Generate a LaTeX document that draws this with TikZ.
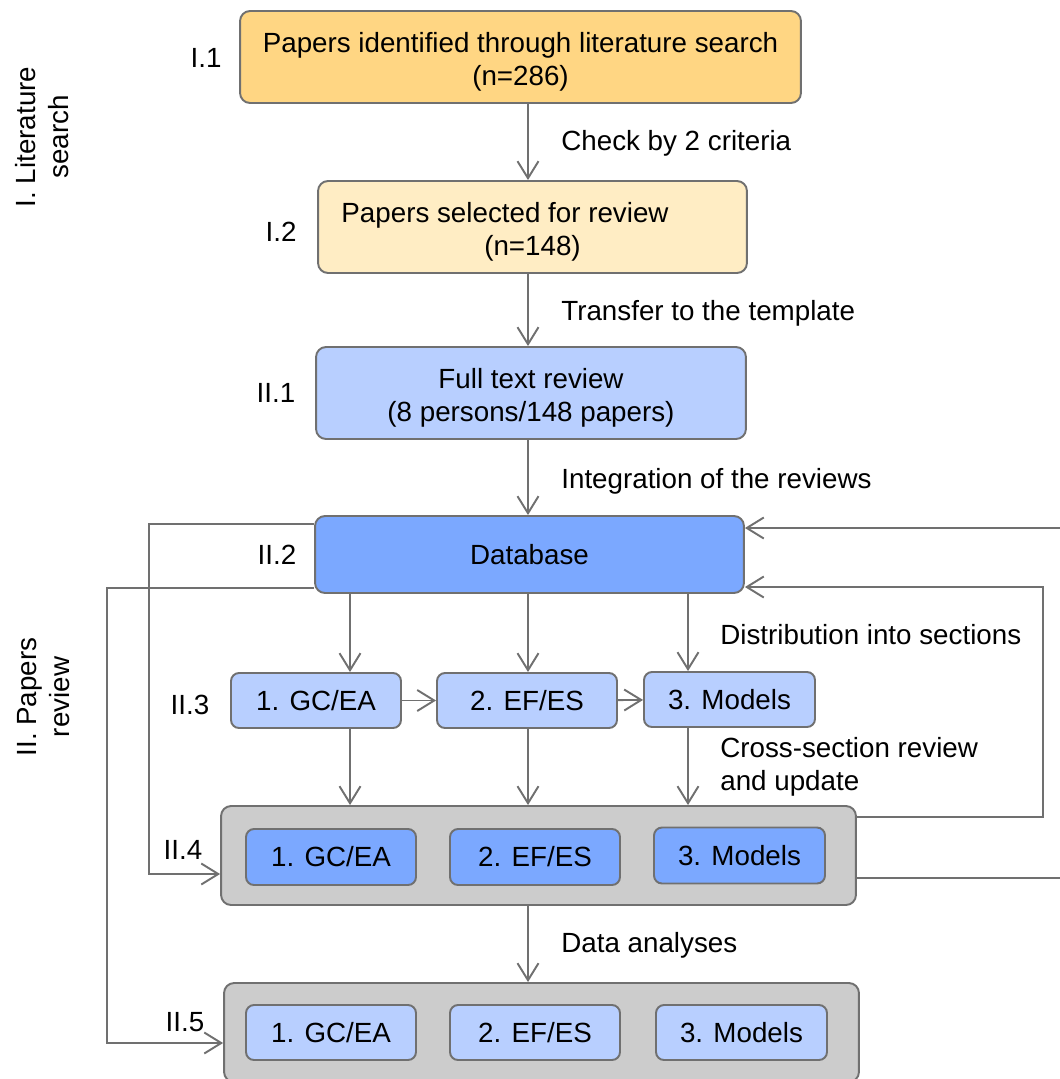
\documentclass[tikz,border=0pt]{standalone}
\usepackage{fontspec}
\setmainfont{Liberation Sans}
\usetikzlibrary{arrows.meta, positioning, calc}
\definecolor{litA}{HTML}{FFD683}
\definecolor{litB}{HTML}{FFEDC4}
\definecolor{revA}{HTML}{B8CFFF}
\definecolor{revB}{HTML}{7BA8FF}
\definecolor{grp}{HTML}{CCCCCC}
\definecolor{linec}{HTML}{707070}
\tikzstyle{box}=[draw=linec, line width=1.1pt, rounded corners=0.2cm, align=center, inner sep=0pt]
\tikzstyle{secbox}=[box, minimum height=1.1cm, rounded corners=0.16cm]
\tikzstyle{grpbox}=[box, fill=grp, minimum width=12.7cm, minimum height=1.98cm]
\tikzstyle{arr}=[->, draw=linec, line width=1.1pt]
\tikzstyle{lbl}=[anchor=west, inner sep=0pt, align=left]
\newcommand{\upstrut}{\rule{0pt}{17pt}}

\begin{document}
\begin{tikzpicture}[x=0.02cm, y=-0.02cm, >={Straight Barb[length=0.34cm, width=0.42cm]},
  font=\fontsize{15.8}{18.8}\selectfont]
\useasboundingbox (0,0) rectangle (1059,1079);
% columns of the section arrows
\coordinate (col_1) at (350,0);
\coordinate (col_2) at (528,0);
\coordinate (col_3) at (688,0);

% phases
\node[rotate=90, align=center] (phase_1) at (42,137) {I. Literature\\search};
\node[rotate=90, align=center] (phase_2) at (44,697) {II. Papers\\review};

% main boxes
\node[box, fill=litA, minimum width=11.22cm, minimum height=1.84cm] (lit_1) at (520.5,57)
  {\upstrut Papers identified through literature search\\(n=286)};
\node[box, fill=litB, minimum width=8.58cm, minimum height=1.84cm] (lit_2) at (532.5,227)
  {\upstrut Papers selected for review\hspace*{1.1cm}\\(n=148)};
\node[box, fill=revA, minimum width=8.6cm, minimum height=1.84cm] (rev_1) at (531,393)
  {\upstrut Full text review\\(8 persons/148 papers)};
\node[box, fill=revB, minimum width=8.58cm, minimum height=1.54cm] (db) at (529.5,554.5) {Database};

% sections
\node[secbox, fill=revA, minimum width=3.4cm] (sec_gc) at (316,700.5) {1. GC/EA};
\node[secbox, fill=revA, minimum width=3.6cm] (sec_ef) at (527,700.5) {2. EF/ES};
\node[secbox, fill=revA, minimum width=3.42cm] (sec_mo) at (729.5,699.5) {3. Models};

\node[grpbox] (upd) at (538.5,855.5) {};
\node[secbox, fill=revB, minimum width=3.4cm, minimum height=1.12cm] (upd_gc) at (331,857) {1. GC/EA};
\node[secbox, fill=revB, minimum width=3.4cm, minimum height=1.12cm] (upd_ef) at (535,857) {2. EF/ES};
\node[secbox, fill=revB, minimum width=3.42cm, minimum height=1.12cm] (upd_mo) at (739.5,855.5) {3. Models};

\node[grpbox] (ana) at (541.5,1032.5) {};
\node[secbox, fill=revA, minimum width=3.4cm] (ana_gc) at (331,1032.5) {1. GC/EA};
\node[secbox, fill=revA, minimum width=3.4cm] (ana_ef) at (535,1032.5) {2. EF/ES};
\node[secbox, fill=revA, minimum width=3.42cm] (ana_mo) at (741.5,1032.5) {3. Models};

% step numbers
\node (n_i1) at (206,58) {I.1};
\node (n_i2) at (281,232) {I.2};
\node (n_ii1) at (276,393) {II.1};
\node (n_ii2) at (277,555) {II.2};
\node (n_ii3) at (190,705) {II.3};
\node (n_ii4) at (183,850) {II.4};
\node (n_ii5) at (185,1022) {II.5};

% connector labels
\node[lbl] (t_check) at (561,143) {Check by 2 criteria};
\node[lbl] (t_transfer) at (561,313) {Transfer to the template};
\node[lbl] (t_integr) at (561,481) {Integration of the reviews};
\node[lbl] (t_distr) at (720,635) {Distribution into sections};
\node[lbl] (t_cross) at (720,767) {Cross-section review\\and update};
\node[lbl] (t_data) at (561,945) {Data analyses};

% main flow
\draw[arr] (lit_1.south -| col_2) -- (lit_2.north -| col_2);
\draw[arr] (lit_2.south -| col_2) -- (rev_1.north -| col_2);
\draw[arr] (rev_1.south -| col_2) -- (db.north -| col_2);
\draw[arr] (db.south -| col_1) -- (sec_gc.north -| col_1);
\draw[arr] (db.south -| col_2) -- (sec_ef.north -| col_2);
\draw[arr] (db.south -| col_3) -- (sec_mo.north -| col_3);
\draw[arr] (sec_gc) -- (sec_ef);
\draw[arr] (sec_ef) -- (sec_mo);
\draw[arr] (sec_gc.south -| col_1) -- (upd.north -| col_1);
\draw[arr] (sec_ef.south -| col_2) -- (upd.north -| col_2);
\draw[arr] (sec_mo.south -| col_3) -- (upd.north -| col_3);
\draw[arr] (upd.south -| col_2) -- (ana.north -| col_2);

% loops
\draw[arr] ($(db.west)+(0,-30.5)$) -- ++(-165,0) |- ($(upd.west)+(0,18.5)$);
\draw[arr] ($(db.west)+(0,33.5)$) -- ++(-207,0) |- ($(ana.west)+(0,10.5)$);
\draw[arr] ($(upd.east)+(0,-38.5)$) -- ++(186,0) |- ($(db.east)+(0,32.5)$);
\draw[arr] ($(upd.east)+(0,22.5)$) -- ++(240,0) |- ($(db.east)+(0,-26.5)$);
\end{tikzpicture}
\end{document}
